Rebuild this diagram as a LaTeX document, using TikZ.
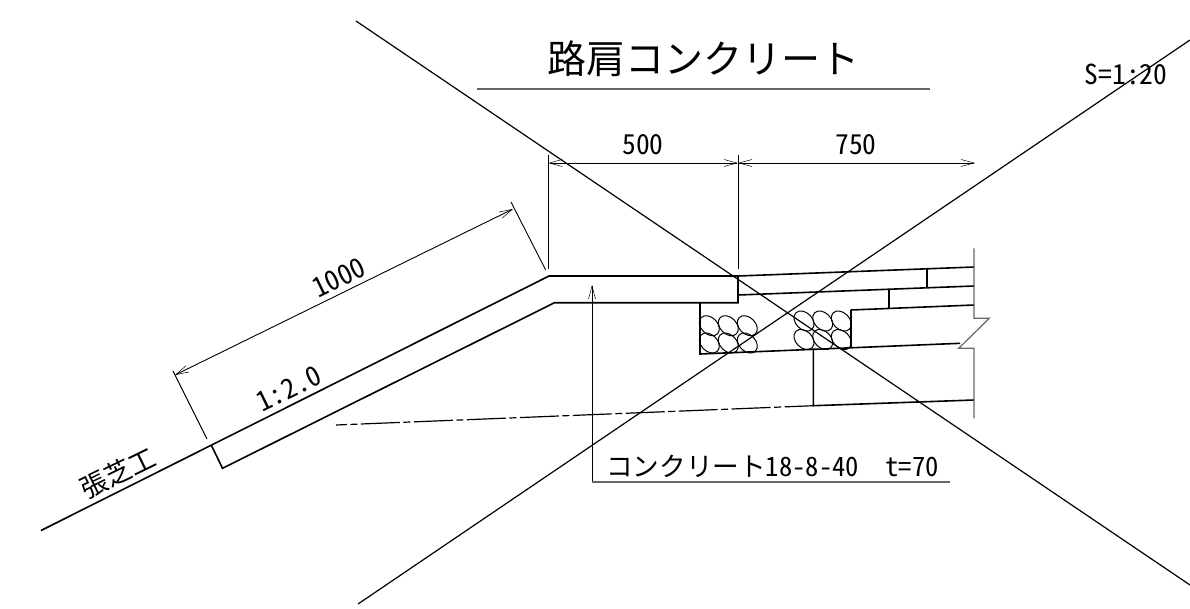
\documentclass[tikz,border=0pt]{standalone}
\usepackage{fontspec}
\usetikzlibrary{arrows.meta,shapes.geometric}
\newfontfamily\jpfont{Noto Sans CJK JP}
\newfontfamily\hwfont[RawFeature=+hwid]{Noto Sans CJK JP}
\tikzset{
  lin/.style={draw=black,line width=1.2pt},
  thick line/.style={draw=black,line width=1.6pt},
  thinl/.style={draw=black,line width=0.9pt},
  wall/.style={draw=black!60,line width=1.2pt},
  dimtip/.style={{Straight Barb[length=13pt,width=7pt,line width=0.5pt]}-{Straight Barb[length=13pt,width=7pt,line width=0.5pt]}},
  gravel/.style={draw=black,line width=1pt,ellipse,inner sep=0pt,minimum width=23pt,minimum height=16.5pt,rotate=-45},
  lab/.style={inner sep=0pt,text=black},
}
\begin{document}
\begin{tikzpicture}[x=1pt,y=-1pt]
\useasboundingbox (0,0) rectangle (1190,608);
\fill[white] (0,0) rectangle (1190,608);
% coordinates
\coordinate (t0) at (41,530.5);
\coordinate (t1) at (549,276);
\coordinate (t2) at (738,276);
\coordinate (b1) at (554.5,302.7);
\coordinate (b2) at (738,302.7);
\coordinate (s0) at (211.5,445.5);
\coordinate (s1) at (222.5,468.3);
% crossing
\coordinate (xa) at (356,21);
\coordinate (xb) at (1190,585);
\coordinate (xc) at (358,604);
\coordinate (xd) at (1190,40);
\draw[lin] (xa)--(xb);
\draw[lin] (xc)--(xd);
% concrete
\draw[thick line] (t0)--(t1)--(t2)--(b2)--(b1)--(s1)--(s0);
% pavement
\draw[thick line] (t2)--(974,267);
\draw[thick line] (738,295)--(974,286);
\draw[thick line] (850.7,310)--(974,305);
\draw[thick line] (926.7,269.3)--(926.7,287.7);
\draw[thick line] (889,290)--(889,308.3);
\draw[thick line] (850.7,310)--(850.7,347.3);
\draw[thick line] (700,303)--(700,354)--(960,343.3);
\draw[thick line] (813.3,348.3)--(813.3,405.7)--(974,400);
\draw[wall] (974,248.3)--(974,318.3)--(989.3,318.3)--(958.7,348.3)--(974,348.3)--(974,418.3);
\draw[lin,dash pattern=on 39pt off 3.5pt on 7pt off 3.5pt,dash phase=28pt] (336,425)--(813.3,405.7);
% gravel
\foreach \x/\y in {709.3/325.7,728.3/325.7,747.3/325.7,709.3/343,728.3/343,747.3/343,
                   804/321,822.7/321,841.3/321,804/339.5,822.7/339.5,841.3/339.5}
  \node[gravel] at (\x,\y) {};
% dimensions
\draw[thinl] (548.3,155)--(548.3,269);
\draw[thinl] (738,155)--(738,269);
\draw[thinl,dimtip] (548.3,163)--(738,163);
\draw[thinl,dimtip] (738,163)--(975,163);
\draw[thinl] (511,202)--(545.7,270);
\draw[thinl] (173,371)--(207,439);
\draw[thinl,dimtip] (175,375)--(513,209);
\draw[thinl,-{Straight Barb[length=13pt,width=7pt,line width=0.5pt]}] (592,483)--(592,285);
\draw[wall] (592,482)--(950,482);
\draw[wall] (477,89)--(930,89);
% text
\node[lab,font=\jpfont\fontsize{39}{39}\selectfont,anchor=center] (title) at (703,59) {路肩コンクリート};
\node[lab,font=\hwfont\fontsize{27.5}{27.5}\selectfont] (s) at (1126,74) {S=1:20};
\node[lab,font=\hwfont\fontsize{27.5}{27.5}\selectfont] (d500) at (643,145) {500};
\node[lab,font=\hwfont\fontsize{27.5}{27.5}\selectfont] (d750) at (856,145) {750};
\node[lab,font=\hwfont\fontsize{27.5}{27.5}\selectfont,rotate=26] (d1000) at (339,278) {1000};
\node[lab,font=\hwfont\fontsize{27.5}{27.5}\selectfont,rotate=26] (slope) at (289,389) {1:2.0};
\node[lab,font=\jpfont\fontsize{26.6}{26.6}\selectfont,rotate=26] (shiba) at (118,473) {張芝工};
\node[lab,font=\jpfont\fontsize{26.6}{26.6}\selectfont,anchor=west] (conc) at (606,466) {コンクリート\hwfont 18-8-40\ \ t=70};
\end{tikzpicture}
\end{document}
